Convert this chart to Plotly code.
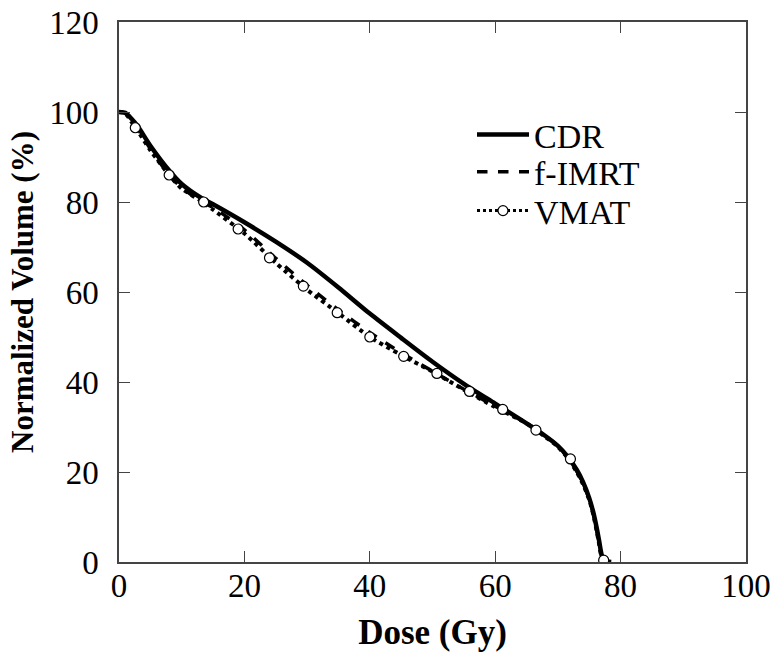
import plotly.graph_objects as go

# Dose (Gy) and normalized volume (%)
cdr_dose = [0, 1, 2, 3, 5, 8, 10, 13, 15, 20, 25, 30, 35, 40, 45, 50, 55, 60, 65, 68, 70, 71.5, 73, 74, 75, 75.6, 76.2, 76.6, 77.0, 77.5, 78.5]
cdr_vol = [100, 99.8, 98.5, 96.8, 92.5, 87, 84, 81, 79.5, 75.5, 71.2, 66.5, 61, 55.2, 49.8, 44.5, 39.6, 35.2, 30.8, 28, 25.8, 23.5, 20.5, 17.8, 14.2, 11.3, 7.5, 4.5, 1.5, 0.3, 0]

fimrt_dose = [0, 1, 2, 3, 5, 8, 10, 13, 15, 20, 25, 30, 35, 40, 45, 50, 55, 60, 65, 68, 70, 71.5, 73, 74, 75, 75.6, 76.2, 76.6, 77.0, 77.5, 78.3]
fimrt_vol = [100, 99.8, 98.2, 96.3, 91.8, 86, 83.2, 80.2, 78.8, 73.8, 67.5, 61.5, 56, 51, 46.5, 42.4, 38.4, 34.6, 30.9, 28, 25.8, 23.3, 20.2, 17.5, 14, 11, 7, 4, 1.2, 0.2, 0]

vmat_dose = [0, 1, 2, 3, 5, 8, 10, 13, 15, 20, 25, 30, 35, 40, 45, 50, 55, 60, 65, 68, 70, 71.5, 73, 74, 75, 75.6, 76.2, 76.6, 77.0, 77.5, 78.0]
vmat_vol = [100, 99.7, 97.8, 95.8, 91.5, 86, 83, 80.3, 78.3, 73, 66.5, 60.5, 55.3, 50, 46, 42.3, 38.3, 34.4, 30.8, 27.8, 25.6, 23.2, 20, 17.3, 13.8, 10.8, 6.8, 3.8, 1.0, 0.2, 0]

# VMAT marker positions
vmat_mark_dose = [2.6, 8.0, 13.5, 19.0, 24.0, 29.4, 34.8, 40.0, 45.4, 50.7, 55.9, 61.2, 66.5, 72.0, 77.3]
vmat_mark_vol = [96.5, 86.0, 80.0, 74.0, 67.6, 61.3, 55.4, 50.0, 45.7, 41.9, 37.9, 33.9, 29.3, 22.9, 0.4]

FONT = "Liberation Serif"

fig = go.Figure()
fig.add_trace(go.Scatter(x=cdr_dose, y=cdr_vol, mode="lines", name="CDR", legend="legend",
                         line=dict(color="black", width=4.5, shape="spline", smoothing=0.7)))
fig.add_trace(go.Scatter(x=fimrt_dose, y=fimrt_vol, mode="lines", name="f-IMRT", legend="legend2",
                         line=dict(color="black", width=3.5, dash="dash", shape="spline", smoothing=0.7)))
fig.add_trace(go.Scatter(x=vmat_dose, y=vmat_vol, mode="lines", name="VMAT", showlegend=False,
                         line=dict(color="black", width=4, dash="dot", shape="spline", smoothing=0.7)))
fig.add_trace(go.Scatter(x=vmat_mark_dose, y=vmat_mark_vol, mode="markers", showlegend=False,
                         marker=dict(symbol="circle", size=10, color="white",
                                     line=dict(color="black", width=1.2))))
fig.add_trace(go.Scatter(x=[None], y=[None], mode="lines+markers", name="VMAT", legend="legend3",
                         line=dict(color="black", width=3, dash="dot"),
                         marker=dict(symbol="circle", size=10, color="white",
                                     line=dict(color="black", width=1.2))))

axis_common = dict(
    showgrid=False, zeroline=False, showline=True, linecolor="#444", linewidth=1.5,
    mirror="allticks", ticks="inside", ticklen=11, tickwidth=1.2, tickcolor="#444",
    tickfont=dict(family=FONT, size=33, color="black"), automargin=False,
    ticklabeloverflow="allow",
)
fig.update_xaxes(range=[0, 100], tickvals=[0, 20, 40, 60, 80, 100], ticklabelstandoff=-6,
                 title=dict(text="<b>Dose (Gy)</b>", font=dict(family=FONT, size=35, color="black"), standoff=16),
                 **axis_common)
fig.update_yaxes(range=[0, 120], tickvals=[0, 20, 40, 60, 80, 100, 120], ticklabelstandoff=12,
                 title=dict(text="<b>Normalized Volume (%)</b>", font=dict(family=FONT, size=31, color="black"), standoff=6),
                 **axis_common)

leg = dict(xanchor="left", yanchor="middle", bgcolor="rgba(0,0,0,0)",
           font=dict(family=FONT, size=34, color="black"), itemwidth=52)
fig.update_layout(
    width=775, height=658,
    margin=dict(l=119, r=29, t=22, b=96),
    paper_bgcolor="white", plot_bgcolor="white",
    font=dict(family=FONT, color="black"),
    legend=dict(x=0.563, y=0.791, **leg),
    legend2=dict(x=0.563, y=0.722, **leg),
    legend3=dict(x=0.563, y=0.650, **leg),
)

fig.write_html("out.html", config={"displayModeBar": False},
               post_script="document.body.style.margin='0';document.body.style.overflow='hidden';")
